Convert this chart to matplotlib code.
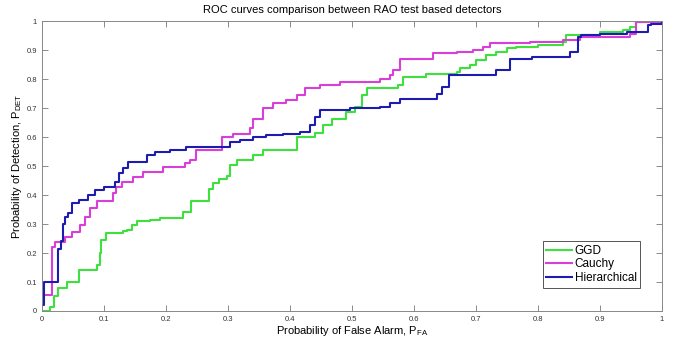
import matplotlib
matplotlib.use('Agg')
import matplotlib.pyplot as plt
from matplotlib.ticker import FuncFormatter

# ROC curves (steps-post vertices)
ggd_fa = [0, 0.013, 0.02, 0.026, 0.04, 0.06, 0.088, 0.093, 0.096, 0.103, 0.131, 0.137, 0.145, 0.153,
          0.174, 0.19, 0.228, 0.241, 0.27, 0.276, 0.285, 0.298, 0.303, 0.314, 0.341, 0.357, 0.403,
          0.411, 0.44, 0.454, 0.468, 0.491, 0.505, 0.516, 0.524, 0.575, 0.583, 0.62, 0.669, 0.675,
          0.69, 0.70, 0.717, 0.733, 0.75, 0.765, 0.80, 0.84, 0.846, 0.90, 0.937, 0.948, 0.959, 1.0]
ggd_pd = [0, 0.015, 0.05, 0.08, 0.10, 0.14, 0.16, 0.20, 0.245, 0.27, 0.275, 0.28, 0.295, 0.31,
          0.315, 0.322, 0.342, 0.379, 0.42, 0.44, 0.457, 0.465, 0.503, 0.52, 0.538, 0.555, 0.555,
          0.601, 0.615, 0.641, 0.664, 0.687, 0.705, 0.745, 0.768, 0.779, 0.808, 0.816, 0.823, 0.837,
          0.848, 0.865, 0.883, 0.894, 0.906, 0.912, 0.917, 0.929, 0.952, 0.963, 0.969, 0.98, 0.998, 1.0]

cauchy_fa = [0, 0.016, 0.021, 0.037, 0.048, 0.061, 0.069, 0.078, 0.088, 0.114, 0.12, 0.129, 0.147,
             0.163, 0.195, 0.23, 0.239, 0.249, 0.29, 0.308, 0.335, 0.34, 0.357, 0.373, 0.394, 0.411,
             0.424, 0.448, 0.481, 0.545, 0.561, 0.567, 0.577, 0.631, 0.669, 0.696, 0.712, 0.723,
             0.787, 0.841, 0.868, 0.948, 0.959, 1.0]
cauchy_pd = [0.055, 0.22, 0.239, 0.256, 0.273, 0.296, 0.325, 0.354, 0.381, 0.406, 0.429, 0.446, 0.463,
             0.48, 0.498, 0.51, 0.52, 0.557, 0.60, 0.612, 0.63, 0.664, 0.699, 0.716, 0.727, 0.745,
             0.768, 0.779, 0.789, 0.802, 0.814, 0.831, 0.868, 0.889, 0.895, 0.90, 0.911, 0.923,
             0.929, 0.934, 0.946, 0.957, 0.998, 1.0]

hier_fa = [0, 0.003, 0.026, 0.03, 0.034, 0.037, 0.042, 0.048, 0.059, 0.075, 0.086, 0.10, 0.118, 0.124,
           0.131, 0.139, 0.17, 0.183, 0.206, 0.233, 0.303, 0.32, 0.341, 0.362, 0.389, 0.416, 0.432,
           0.44, 0.448, 0.497, 0.545, 0.561, 0.577, 0.637, 0.645, 0.656, 0.733, 0.755, 0.79, 0.852,
           0.865, 0.87, 0.90, 0.943, 0.978, 0.983, 1.0]
hier_pd = [0.02, 0.10, 0.213, 0.242, 0.30, 0.325, 0.337, 0.371, 0.383, 0.40, 0.417, 0.429, 0.446, 0.475,
           0.492, 0.515, 0.538, 0.549, 0.555, 0.566, 0.584, 0.59, 0.60, 0.606, 0.612, 0.618, 0.641,
           0.67, 0.693, 0.699, 0.704, 0.716, 0.733, 0.75, 0.773, 0.814, 0.831, 0.871, 0.877, 0.894,
           0.946, 0.952, 0.957, 0.963, 0.986, 0.99, 1.0]

series = [("GGD", ggd_fa, ggd_pd, "#3ee03e"),
          ("Cauchy", cauchy_fa, cauchy_pd, "#d83ed8"),
          ("Hierarchical", hier_fa, hier_pd, "#1c1cb0")]

ticks = [0, 0.1, 0.2, 0.3, 0.4, 0.5, 0.6, 0.7, 0.8, 0.9, 1]

plt.rcParams['font.family'] = ['Liberation Sans', 'DejaVu Sans']
plt.rcParams['mathtext.fontset'] = 'custom'
plt.rcParams['mathtext.rm'] = 'Liberation Sans'
plt.rcParams['mathtext.it'] = 'Liberation Sans'

fig = plt.figure(figsize=(6.76, 3.41), dpi=100)
ax = fig.add_axes([0.0621, 0.088, 0.917, 0.85])

for name, fa, pd_, col in series:
    ax.plot(fa, pd_, drawstyle='steps-post', color=col, linewidth=1.5, label=name)

ax.set_xlim(0, 1)
ax.set_ylim(0, 1)
ax.set_xticks(ticks)
ax.set_yticks(ticks)
fmt = FuncFormatter(lambda v, p: '%g' % v)
ax.xaxis.set_major_formatter(fmt)
ax.yaxis.set_major_formatter(fmt)
ax.tick_params(direction='in', top=True, right=True, labelsize=5.5, length=4,
               color='#777777', labelcolor='#333333', width=0.6)
for s in ax.spines.values():
    s.set_color('#888888')
    s.set_linewidth(0.7)

ax.set_title('ROC curves comparison between RAO test based detectors', fontsize=8, pad=6)
ax.set_xlabel(r'Probability of False Alarm, P$_{\mathrm{FA}}$', fontsize=8, labelpad=1)
ax.set_ylabel(r'Probability of Detection, P$_{\mathrm{DET}}$', fontsize=8, labelpad=2)

leg = ax.legend(loc='lower right', bbox_to_anchor=(0.965, 0.08), fontsize=8.5, fancybox=False,
                framealpha=1, edgecolor='#555555', handlelength=2.2, handletextpad=0.2,
                borderpad=0.3, labelspacing=0.15, borderaxespad=0)
leg.get_frame().set_linewidth(0.7)

fig.savefig('out.png', dpi=100)
